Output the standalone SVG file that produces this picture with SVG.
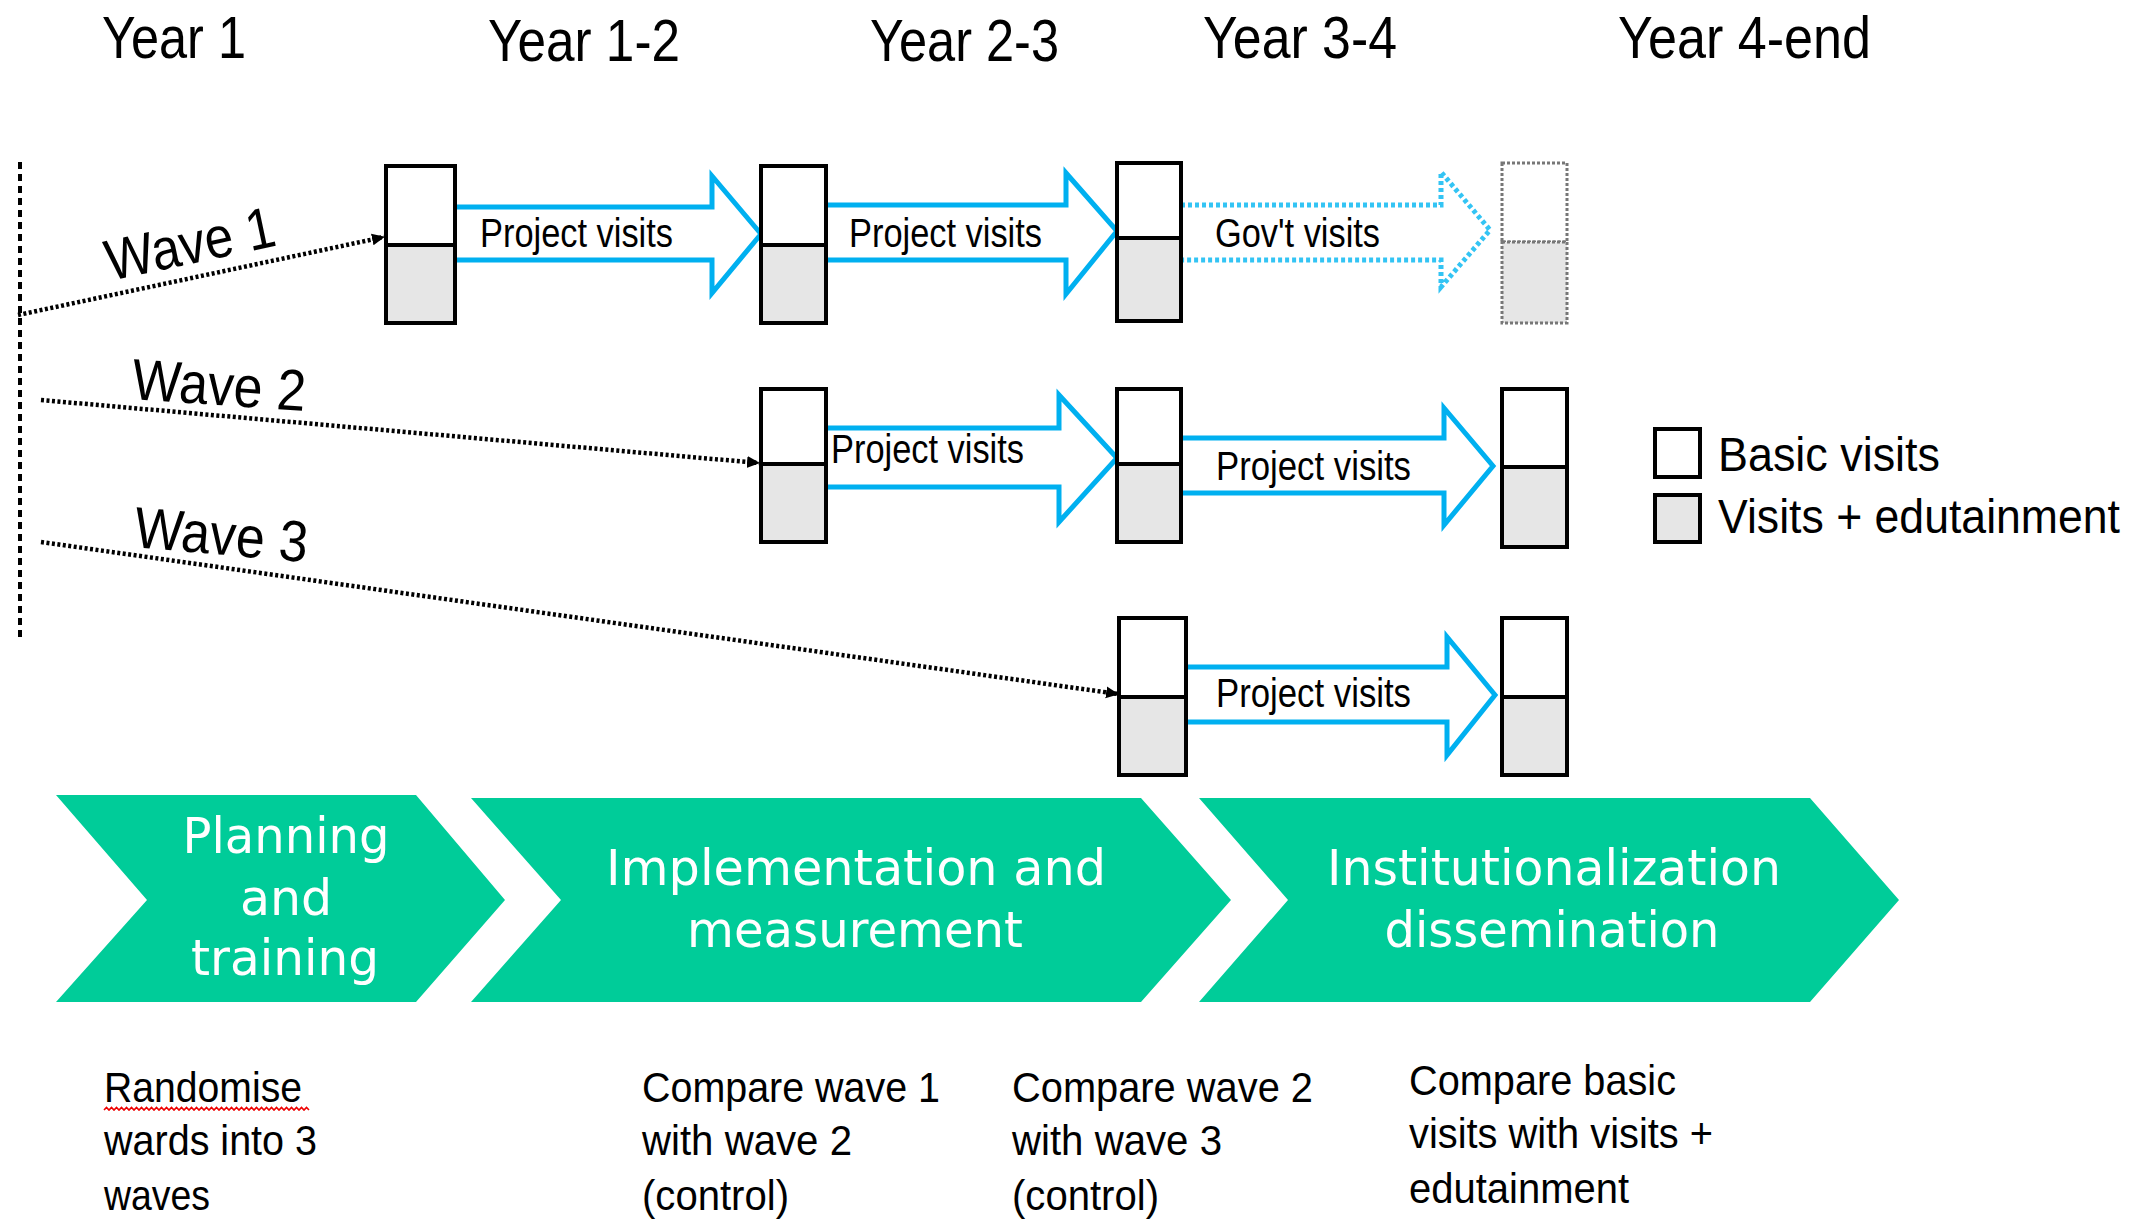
<svg xmlns="http://www.w3.org/2000/svg" width="2151" height="1220" viewBox="0 0 2151 1220">
<defs>
<style>
.hdr{font-family:"Liberation Sans",Arial,sans-serif;font-size:60px;fill:#000}
.wave{font-family:"Liberation Sans",Arial,sans-serif;font-size:58px;fill:#000}
.pv{font-family:"Liberation Sans",Arial,sans-serif;font-size:41px;fill:#000}
.leg{font-family:"Liberation Sans",Arial,sans-serif;font-size:48px;fill:#000}
.note{font-family:"Liberation Sans",Arial,sans-serif;font-size:43px;fill:#000}
.chev{fill:#00CC99}
.ctx{font-family:"DejaVu Sans","Verdana",sans-serif;font-size:49px;fill:#fff;text-anchor:middle}
.box{fill:#fff;stroke:#000;stroke-width:4}
.boxg{fill:#E6E6E6;stroke:#000;stroke-width:4}
.boxd{fill:#fff;stroke:#777;stroke-width:3;stroke-dasharray:3 2}
.boxdg{fill:#E6E6E6;stroke:#777;stroke-width:3;stroke-dasharray:3 2}
.arr{fill:#fff;stroke:#00B0F0;stroke-width:5;stroke-linejoin:miter}
.arrd{fill:#fff;stroke:#33C4F4;stroke-width:5;stroke-dasharray:4 3}
.dot{fill:none;stroke:#000;stroke-width:4.5;stroke-dasharray:3 2.5}
.vdot{fill:none;stroke:#000;stroke-width:4;stroke-dasharray:7 5}
</style>
<marker id="ah" markerUnits="userSpaceOnUse" markerWidth="14" markerHeight="14" refX="12" refY="7" orient="auto">
<path d="M0,1 L13,7 L0,13 z" fill="#000"/>
</marker>
</defs>
<rect width="2151" height="1220" fill="#fff"/>

<g id="headers">
<text class="hdr" x="102" y="58" textLength="144" lengthAdjust="spacingAndGlyphs">Year 1</text>
<text class="hdr" x="488" y="61" textLength="192" lengthAdjust="spacingAndGlyphs">Year 1-2</text>
<text class="hdr" x="870" y="61" textLength="189" lengthAdjust="spacingAndGlyphs">Year 2-3</text>
<text class="hdr" x="1203" y="58" textLength="194" lengthAdjust="spacingAndGlyphs">Year 3-4</text>
<text class="hdr" x="1618" y="58" textLength="253" lengthAdjust="spacingAndGlyphs">Year 4-end</text>
</g>

<g id="connectors">
<line class="vdot" x1="20" y1="162" x2="20" y2="640"/>
<line class="dot" x1="18" y1="315" x2="384" y2="237" marker-end="url(#ah)"/>
<line class="dot" x1="41" y1="400" x2="759" y2="463" marker-end="url(#ah)"/>
<line class="dot" x1="41" y1="542" x2="1118" y2="694" marker-end="url(#ah)"/>
</g>

<g id="wave-labels">
<text class="wave" transform="translate(110,281) rotate(-12)" textLength="172" lengthAdjust="spacingAndGlyphs">Wave 1</text>
<text class="wave" transform="translate(131,399) rotate(4)" textLength="174" lengthAdjust="spacingAndGlyphs">Wave 2</text>
<text class="wave" transform="translate(133,547) rotate(5)" textLength="174" lengthAdjust="spacingAndGlyphs">Wave 3</text>
</g>

<g id="arrow-w1-1">
<path class="arr" d="M455,207 L712,207 L712,176 L761,234 L712,293 L712,260 L455,260"/>
<text class="pv" x="480" y="247" textLength="193" lengthAdjust="spacingAndGlyphs">Project visits</text>
</g>
<g id="arrow-w1-2">
<path class="arr" d="M826,205 L1066,205 L1066,173 L1117,231 L1066,294 L1066,260 L826,260"/>
<text class="pv" x="849" y="247" textLength="193" lengthAdjust="spacingAndGlyphs">Project visits</text>
</g>
<g id="arrow-w1-3">
<path class="arrd" d="M1181,205 L1441,205 L1441,172 L1490,230 L1441,287 L1441,260 L1181,260"/>
<text class="pv" x="1215" y="247" textLength="165" lengthAdjust="spacingAndGlyphs">Gov't visits</text>
</g>
<g id="arrow-w2-1">
<path class="arr" d="M826,428 L1059,428 L1059,395 L1117,458 L1059,522 L1059,487 L826,487"/>
<text class="pv" x="831" y="463" textLength="193" lengthAdjust="spacingAndGlyphs">Project visits</text>
</g>
<g id="arrow-w2-2">
<path class="arr" d="M1181,438 L1444,438 L1444,408 L1493,466 L1444,525 L1444,493 L1181,493"/>
<text class="pv" x="1216" y="480" textLength="195" lengthAdjust="spacingAndGlyphs">Project visits</text>
</g>
<g id="arrow-w3-1">
<path class="arr" d="M1186,667 L1447,667 L1447,637 L1495,695 L1447,755 L1447,722 L1186,722"/>
<text class="pv" x="1216" y="707" textLength="195" lengthAdjust="spacingAndGlyphs">Project visits</text>
</g>

<g id="box-w1-1"><rect class="box" x="386" y="166" width="69" height="79"/><rect class="boxg" x="386" y="245" width="69" height="78"/></g>
<g id="box-w1-2"><rect class="box" x="761" y="166" width="65" height="79"/><rect class="boxg" x="761" y="245" width="65" height="78"/></g>
<g id="box-w1-3"><rect class="box" x="1117" y="163" width="64" height="75"/><rect class="boxg" x="1117" y="238" width="64" height="83"/></g>
<g id="box-w1-4"><rect class="boxd" x="1502" y="163" width="65" height="79"/><rect class="boxdg" x="1502" y="242" width="65" height="81"/></g>
<g id="box-w2-1"><rect class="box" x="761" y="389" width="65" height="75"/><rect class="boxg" x="761" y="464" width="65" height="78"/></g>
<g id="box-w2-2"><rect class="box" x="1117" y="389" width="64" height="75"/><rect class="boxg" x="1117" y="464" width="64" height="78"/></g>
<g id="box-w2-3"><rect class="box" x="1502" y="389" width="65" height="78"/><rect class="boxg" x="1502" y="467" width="65" height="80"/></g>
<g id="box-w3-1"><rect class="box" x="1119" y="618" width="67" height="79"/><rect class="boxg" x="1119" y="697" width="67" height="78"/></g>
<g id="box-w3-2"><rect class="box" x="1502" y="618" width="65" height="79"/><rect class="boxg" x="1502" y="697" width="65" height="78"/></g>

<g id="legend">
<rect class="box" x="1655" y="429" width="45" height="48"/>
<text class="leg" x="1718" y="471" textLength="222" lengthAdjust="spacingAndGlyphs">Basic visits</text>
<rect class="boxg" x="1655" y="495" width="45" height="47"/>
<text class="leg" x="1718" y="533" textLength="402" lengthAdjust="spacingAndGlyphs">Visits + edutainment</text>
</g>

<g id="phase-1">
<path class="chev" d="M56,795 L416,795 L505,900 L416,1002 L56,1002 L147,900 z"/>
<text class="ctx" x="286" y="853" textLength="207" lengthAdjust="spacingAndGlyphs">Planning</text>
<text class="ctx" x="286" y="915">and</text>
<text class="ctx" x="285" y="975" textLength="188" lengthAdjust="spacingAndGlyphs">training</text>
</g>
<g id="phase-2">
<path class="chev" d="M471,798 L1141,798 L1231,900 L1141,1002 L471,1002 L561,900 z"/>
<text class="ctx" x="856" y="885" textLength="500" lengthAdjust="spacingAndGlyphs">Implementation and</text>
<text class="ctx" x="855" y="947" textLength="336" lengthAdjust="spacingAndGlyphs">measurement</text>
</g>
<g id="phase-3">
<path class="chev" d="M1199,798 L1810,798 L1899,900 L1810,1002 L1199,1002 L1288,900 z"/>
<text class="ctx" x="1554" y="885" textLength="454" lengthAdjust="spacingAndGlyphs">Institutionalization</text>
<text class="ctx" x="1552" y="947" textLength="335" lengthAdjust="spacingAndGlyphs">dissemination</text>
</g>

<g id="note-1">
<text class="note" x="104" y="1102" textLength="198" lengthAdjust="spacingAndGlyphs">Randomise</text>
<path d="M104,1110 l2.5,-2.5 l2.5,2.5 l2.5,-2.5 l2.5,2.5 l2.5,-2.5 l2.5,2.5 l2.5,-2.5 l2.5,2.5 l2.5,-2.5 l2.5,2.5 l2.5,-2.5 l2.5,2.5 l2.5,-2.5 l2.5,2.5 l2.5,-2.5 l2.5,2.5 l2.5,-2.5 l2.5,2.5 l2.5,-2.5 l2.5,2.5 l2.5,-2.5 l2.5,2.5 l2.5,-2.5 l2.5,2.5 l2.5,-2.5 l2.5,2.5 l2.5,-2.5 l2.5,2.5 l2.5,-2.5 l2.5,2.5 l2.5,-2.5 l2.5,2.5 l2.5,-2.5 l2.5,2.5 l2.5,-2.5 l2.5,2.5 l2.5,-2.5 l2.5,2.5 l2.5,-2.5 l2.5,2.5 l2.5,-2.5 l2.5,2.5 l2.5,-2.5 l2.5,2.5 l2.5,-2.5 l2.5,2.5 l2.5,-2.5 l2.5,2.5 l2.5,-2.5 l2.5,2.5 l2.5,-2.5 l2.5,2.5 l2.5,-2.5 l2.5,2.5 l2.5,-2.5 l2.5,2.5 l2.5,-2.5 l2.5,2.5 l2.5,-2.5 l2.5,2.5 l2.5,-2.5 l2.5,2.5 l2.5,-2.5 l2.5,2.5 l2.5,-2.5 l2.5,2.5 l2.5,-2.5 l2.5,2.5 l2.5,-2.5 l2.5,2.5 l2.5,-2.5 l2.5,2.5 l2.5,-2.5 l2.5,2.5 l2.5,-2.5 l2.5,2.5 l2.5,-2.5 l2.5,2.5 l2.5,-2.5 l2.5,2.5 l2.5,-2.5 l2.5,2.5" fill="none" stroke="#E00" stroke-width="1.6"/>
<text class="note" x="104" y="1155" textLength="213" lengthAdjust="spacingAndGlyphs">wards into 3</text>
<text class="note" x="104" y="1210" textLength="106" lengthAdjust="spacingAndGlyphs">waves</text>
</g>
<g id="note-2">
<text class="note" x="642" y="1102" textLength="298" lengthAdjust="spacingAndGlyphs">Compare wave 1</text>
<text class="note" x="642" y="1155" textLength="210" lengthAdjust="spacingAndGlyphs">with wave 2</text>
<text class="note" x="642" y="1210" textLength="147" lengthAdjust="spacingAndGlyphs">(control)</text>
</g>
<g id="note-3">
<text class="note" x="1012" y="1102" textLength="301" lengthAdjust="spacingAndGlyphs">Compare wave 2</text>
<text class="note" x="1012" y="1155" textLength="210" lengthAdjust="spacingAndGlyphs">with wave 3</text>
<text class="note" x="1012" y="1210" textLength="147" lengthAdjust="spacingAndGlyphs">(control)</text>
</g>
<g id="note-4">
<text class="note" x="1409" y="1095" textLength="267" lengthAdjust="spacingAndGlyphs">Compare basic</text>
<text class="note" x="1409" y="1148" textLength="304" lengthAdjust="spacingAndGlyphs">visits with visits +</text>
<text class="note" x="1409" y="1203" textLength="220" lengthAdjust="spacingAndGlyphs">edutainment</text>
</g>
</svg>
